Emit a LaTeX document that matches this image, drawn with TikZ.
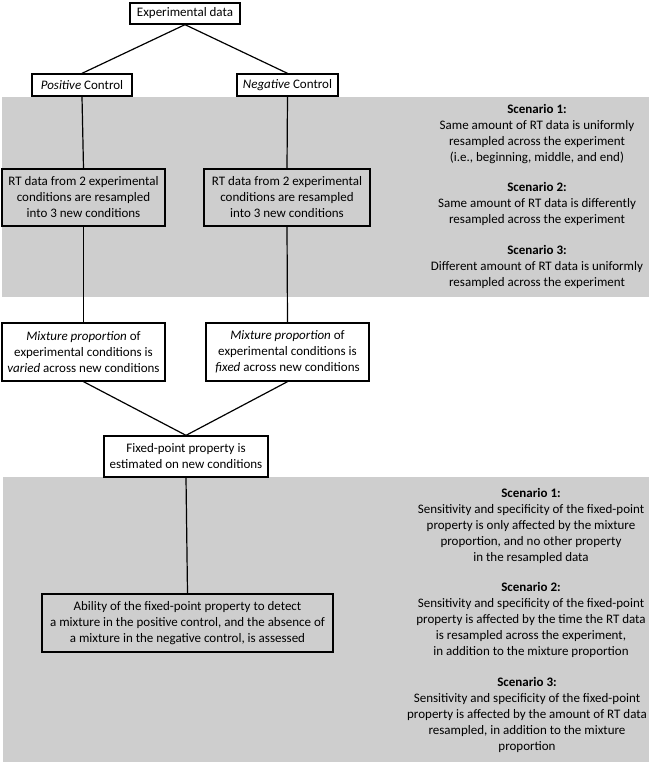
\documentclass[tikz,border=0pt]{standalone}
\usepackage{fontspec}
\setmainfont{Carlito}
\definecolor{bandgray}{RGB}{206,206,206}
\tikzset{
  box/.style={draw=black, line width=1.3pt, inner sep=0pt, align=center,
    font=\fontsize{13}{16}\selectfont},
  conn/.style={draw=black, line width=1.2pt},
  scen/.style={inner sep=0pt, align=center, font=\fontsize{13}{16}\selectfont}
}
\begin{document}
\begin{tikzpicture}[x=1pt,y=-1pt]
\useasboundingbox (0,0) rectangle (649,763);
% grey bands
\fill[bandgray] (2,97) rectangle (649,297);
\fill[bandgray] (3,477) rectangle (649,762);
% boxes
\node[box, minimum width=110pt, minimum height=21pt] (exp) at (185,13.5) {Experimental data};
\node[box, minimum width=100pt, minimum height=22pt] (pos) at (82,85) {\textit{Positive} Control};
\node[box, minimum width=101pt, minimum height=22pt] (neg) at (287.5,85) {\textit{Negative} Control};
\node[box, minimum width=163pt, minimum height=57pt] (rt1) at (83.5,197.5) {RT data from 2 experimental\\conditions are resampled\\into 3 new conditions};
\node[box, minimum width=166pt, minimum height=57pt] (rt2) at (287,197.5) {RT data from 2 experimental\\conditions are resampled\\into 3 new conditions};
\node[box, minimum width=163pt, minimum height=58pt] (mix1) at (83.5,352) {\textit{Mixture proportion} of\\experimental conditions is\\\textit{varied} across new conditions};
\node[box, minimum width=163pt, minimum height=58pt] (mix2) at (287.5,352) {\textit{Mixture proportion} of\\experimental conditions is\\\textit{fixed} across new conditions};
\node[box, minimum width=164pt, minimum height=41pt] (fp) at (186,456.5) {Fixed-point property is\\estimated on new conditions};
\node[box, minimum width=291pt, minimum height=58pt] (ab) at (187.5,623) {Ability of the fixed-point property to detect\\a mixture in the positive control, and the absence of\\a mixture in the negative control, is assessed};
% scenario texts (top band)
\node[scen] (s1a) at (537,134) {\textbf{Scenario 1:}\\Same amount of RT data is uniformly\\resampled across the experiment\\(i.e., beginning, middle, and end)};
\node[scen] (s2a) at (537,204) {\textbf{Scenario 2:}\\Same amount of RT data is differently\\resampled across the experiment};
\node[scen] (s3a) at (537,266.5) {\textbf{Scenario 3:}\\Different amount of RT data is uniformly\\resampled across the experiment};
% scenario texts (bottom band)
\node[scen] (s1b) at (531,525.5) {\textbf{Scenario 1:}\\Sensitivity and specificity of the fixed-point\\property is only affected by the mixture\\proportion, and no other property\\in the resampled data};
\node[scen] (s2b) at (531,620) {\textbf{Scenario 2:}\\Sensitivity and specificity of the fixed-point\\property is affected by the time the RT data\\is resampled across the experiment,\\in addition to the mixture proportion};
\node[scen] (s3b) at (527,715) {\textbf{Scenario 3:}\\Sensitivity and specificity of the fixed-point\\property is affected by the amount of RT data\\resampled, in addition to the mixture\\proportion};
% connectors
\draw[conn] (exp.south) -- (pos.north);
\draw[conn] (exp.south) -- (neg.north);
\draw[conn] (pos.south) -- (rt1.north);
\draw[conn] (neg.south) -- (rt2.north);
\draw[conn] (rt1.south) -- (mix1.north);
\draw[conn] (rt2.south) -- (mix2.north);
\draw[conn] (mix1.south) -- (fp.north);
\draw[conn] (mix2.south) -- (fp.north);
\draw[conn] (fp.south) -- (ab.north);
\end{tikzpicture}
\end{document}
